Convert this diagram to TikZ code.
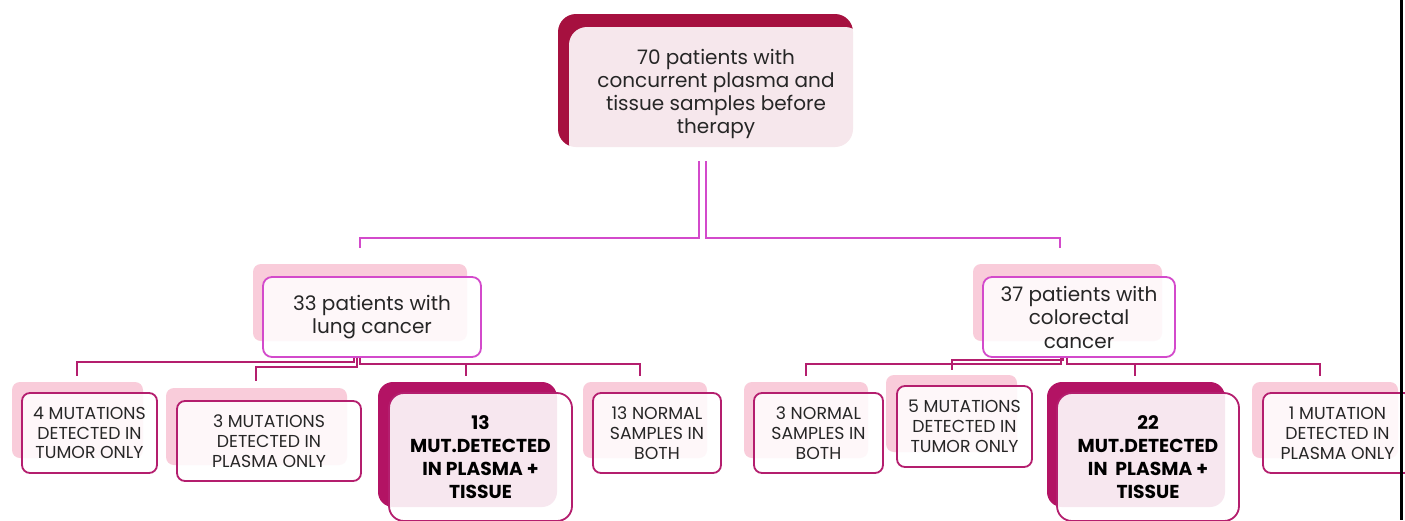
\documentclass[tikz,border=0pt]{standalone}
\usepackage{fontspec}
\setmainfont{Poppins}
\usetikzlibrary{calc}
\definecolor{topred}{HTML}{A6103F}
\definecolor{boldmag}{HTML}{B31364}
\definecolor{leafrim}{HTML}{B41E6E}
\definecolor{midrim}{HTML}{D34ACB}
\definecolor{softpink}{HTML}{F9CCDA}
\definecolor{ink}{HTML}{262626}
\tikzset{
  topbox/.style={rounded corners=18pt,fill=white,fill opacity=0.9,text opacity=1,
    text=ink,align=center,inner sep=0pt,font=\fontsize{20}{23}\selectfont},
  midbox/.style={rounded corners=9pt,draw=midrim,line width=1.8pt,fill=white,
    fill opacity=0.85,text opacity=1,text=ink,align=center,inner sep=0pt,
    minimum height=80pt,font=\fontsize{20}{23.5}\selectfont},
  leafbox/.style={rounded corners=8pt,draw=leafrim,line width=1.8pt,fill=white,
    fill opacity=0.85,text opacity=1,text=ink,align=center,inner sep=0pt,
    minimum height=80pt,font=\fontsize{17.3}{19.8}\selectfont},
  boldbox/.style={rounded corners=15pt,draw=leafrim,line width=1.8pt,fill=white,
    fill opacity=0.9,text opacity=1,text=black,align=center,inner sep=0pt,
    minimum height=128pt,font=\bfseries\fontsize{18.7}{23}\selectfont},
  midline/.style={draw=midrim,line width=2.2pt},
  leafline/.style={draw=leafrim,line width=2pt},
}
\begin{document}
\begin{tikzpicture}[x=1pt,y=-1pt]
  \useasboundingbox[fill=white] (0,0) rectangle (1405,520);
  \fill[topred,rounded corners=18pt] (558,14) rectangle (853,147);
  \fill[softpink,rounded corners=8pt] (253,264) rectangle (467,341);
  \fill[softpink,rounded corners=8pt] (973,264) rectangle (1162,341);
  \fill[softpink,rounded corners=8pt] (12,382) rectangle (143,458);
  \fill[softpink,rounded corners=8pt] (166,388) rectangle (347,465);
  \fill[boldmag,rounded corners=15pt] (378,382) rectangle (557,507);
  \fill[softpink,rounded corners=8pt] (583,382) rectangle (707,458);
  \fill[softpink,rounded corners=8pt] (744,382) rectangle (868,458);
  \fill[softpink,rounded corners=8pt] (886,375) rectangle (1017,452);
  \fill[boldmag,rounded corners=15pt] (1047,382) rectangle (1225,507);
  \fill[softpink,rounded corners=8pt] (1252,382) rectangle (1398,458);

  \node[topbox,minimum width=294pt,minimum height=134pt] (top) at (716,94)
    {70 patients with\\concurrent plasma and\\tissue samples before\\therapy};
  \node[midbox,minimum width=218pt] (lung) at (372,317) {33 patients with\\lung cancer};
  \node[midbox,minimum width=192pt] (crc) at (1079,317) {37 patients with\\colorectal\\cancer};
  \node[leafbox,minimum width=135pt] (tumA) at (89.5,433) {4 MUTATIONS\\DETECTED IN\\TUMOR ONLY};
  \node[leafbox,minimum width=184pt] (plaA) at (269,441) {3 MUTATIONS\\DETECTED IN\\PLASMA ONLY};
  \node[boldbox,minimum width=183pt] (bothA) at (480.5,457) {13\\MUT.DETECTED\\IN PLASMA +\\TISSUE};
  \node[leafbox,minimum width=128pt] (normA) at (657,433) {13 NORMAL\\SAMPLES IN\\BOTH};
  \node[leafbox,minimum width=129pt] (normB) at (818.5,433) {3 NORMAL\\SAMPLES IN\\BOTH};
  \node[leafbox,minimum width=135pt,minimum height=81pt] (tumB) at (964.5,426.5) {5 MUTATIONS\\DETECTED IN\\TUMOR ONLY};
  \node[boldbox,minimum width=182pt] (bothB) at (1148,457) {22\\MUT.DETECTED\\IN\ \ PLASMA +\\TISSUE};
  \node[leafbox,minimum width=149pt] (plaB) at (1337.5,433) {1 MUTATION\\DETECTED IN\\PLASMA ONLY};

  \coordinate (lungin) at (360,248);
  \coordinate (crcin) at (1060,248);
  \draw[midline] ($(top.south)+(-17,0)$) -- ++(0,77) -| (lungin);
  \draw[midline] ($(top.south)+(-10,0)$) -- ++(0,77) -| (crcin);

  \coordinate (tumAin) at (77,376);
  \coordinate (plaAin) at (256,381);
  \coordinate (bothAin) at (466,376);
  \coordinate (normAin) at (640,376);
  \draw[leafline] ($(lung.south)+(-18,0)$) -- ++(0,4) -| (tumAin);
  \draw[leafline] ($(lung.south)+(-15,0)$) -- ++(0,9) -| (plaAin);
  \draw[leafline] ($(lung.south)+(-12,0)$) -- ++(0,6) -| (bothAin);
  \draw[leafline] ($(lung.south)+(-12,0)$) -- ++(0,6) -| (normAin);

  \coordinate (normBin) at (806,376);
  \coordinate (tumBin) at (952,370);
  \coordinate (bothBin) at (1135,376);
  \coordinate (plaBin) at (1320,376);
  \draw[leafline] ($(crc.south)+(-18,0)$) -- ++(0,6) -| (normBin);
  \draw[leafline] ($(crc.south)+(-16,0)$) -- ++(0,2) -| (tumBin);
  \draw[leafline] ($(crc.south)+(-12,0)$) -- ++(0,6) -| (bothBin);
  \draw[leafline] ($(crc.south)+(-12,0)$) -- ++(0,6) -| (plaBin);

  \fill[black] (1400,0) rectangle (1403,520);
\end{tikzpicture}
\end{document}
